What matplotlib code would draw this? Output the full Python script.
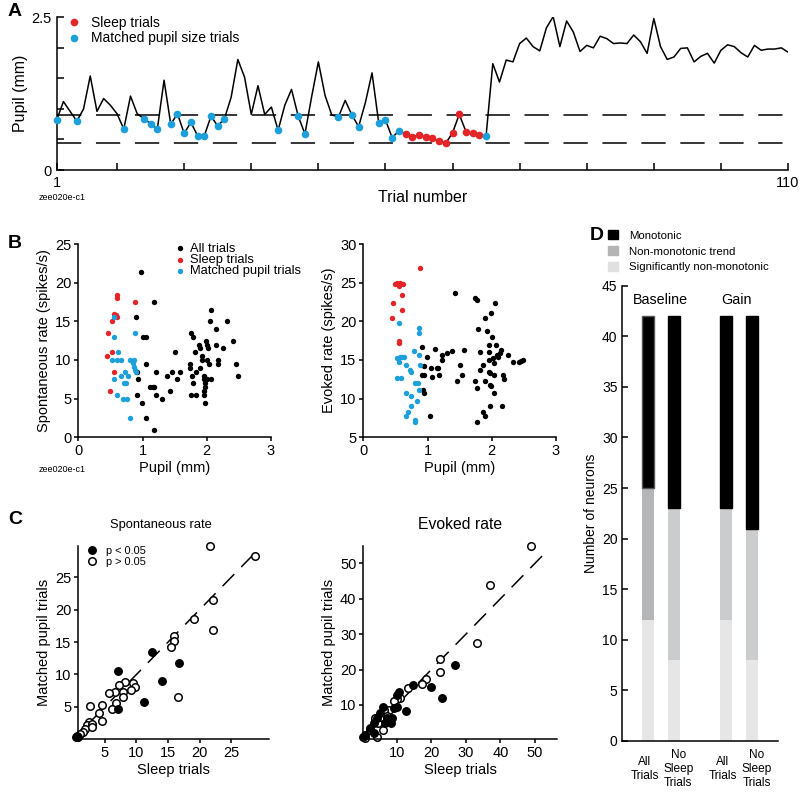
import numpy as np
import matplotlib
matplotlib.use('Agg')
import matplotlib.pyplot as plt
import matplotlib.transforms as mtransforms
from matplotlib.patches import Patch

plt.rcParams['font.family'] = ['Liberation Sans', 'DejaVu Sans']

RED = '#e42528'
BLUE = '#1ba0dc'

# ---------------- Panel A data ----------------
trials = np.arange(1, 111)
pupil = [0.82, 1.12, 0.96, 0.80, 1.00, 1.54, 0.96, 1.17, 1.06, 0.92,
         0.67, 1.21, 0.92, 0.84, 0.76, 0.67, 1.47, 0.75, 0.92, 0.60,
         0.78, 0.56, 0.56, 0.88, 0.72, 0.84, 1.19, 1.81, 1.52, 0.91,
         1.38, 0.91, 1.03, 0.65, 1.06, 1.32, 0.88, 0.59, 1.20, 1.77,
         1.22, 0.90, 0.87, 1.14, 0.90, 0.71, 1.10, 1.59, 0.77, 0.82,
         0.53, 0.64, 0.59, 0.545, 0.57, 0.545, 0.52, 0.47, 0.44, 0.61,
         0.91, 0.63, 0.60, 0.57, 0.56, 1.74, 1.44, 1.80, 1.77, 2.07,
         2.16, 2.02, 1.95, 2.33, 2.51, 2.02, 2.44, 2.26, 1.94, 2.04,
         2.00, 2.19, 2.15, 2.07, 2.08, 2.07, 2.21, 2.10, 1.91, 2.48,
         2.02, 1.81, 1.85, 1.99, 2.00, 1.77, 1.86, 1.91, 1.75, 1.96,
         2.05, 2.02, 1.92, 1.85, 2.04, 1.96, 1.98, 1.98, 2.00, 1.93]
sleep_trials = list(range(53, 65))
matched_trials = [1, 4, 11, 14, 15, 16, 18, 19, 20, 21, 22, 23, 24, 25, 26,
                  34, 37, 38, 43, 45, 46, 49, 50, 51, 52, 65]
pupil_thresholds = [0.90, 0.44]

# ---------------- Panel B data ----------------
spont_all_x = [0.97, 0.90, 1.01, 1.05, 1.18, 1.06, 0.92, 0.93, 0.91, 0.99, 1.05, 1.18,
               1.12, 1.16, 1.18, 1.21, 1.21, 1.31, 1.38, 1.46, 1.43, 1.50, 1.53, 1.58,
               1.75, 1.79, 1.74, 1.74, 1.77, 1.79, 1.75, 1.84, 1.81, 1.84, 1.88, 1.89,
               1.92, 1.89, 1.93, 1.95, 1.96, 1.97, 2.00, 1.95, 1.97, 1.96, 1.97, 1.99,
               2.00, 2.02, 2.00, 2.04, 2.06, 2.07, 2.05, 2.14, 2.14, 2.18, 2.18, 2.25,
               2.31, 2.41, 2.45, 2.48]
spont_all_y = [21.4, 15.5, 13.0, 13.0, 17.5, 9.5, 8.5, 7.5, 5.5, 4.5, 2.5, 1.0,
               6.5, 6.5, 6.5, 8.5, 5.5, 5.0, 7.9, 8.5, 6.0, 11.0, 7.5, 8.5,
               13.5, 13.0, 9.5, 8.9, 7.9, 7.0, 5.5, 5.5, 11.0, 8.5, 12.0, 11.5,
               10.5, 8.9, 10.0, 7.9, 7.5, 7.0, 7.5, 6.0, 6.5, 5.5, 4.5, 12.5,
               12.0, 11.5, 10.0, 9.5, 7.5, 16.5, 15.0, 14.0, 12.0, 10.0, 9.5, 11.5,
               15.0, 12.5, 9.5, 7.9]
spont_sleep_x = [0.60, 0.61, 0.56, 0.60, 0.52, 0.46, 0.53, 0.44, 0.56, 0.49, 0.89, 0.58]
spont_sleep_y = [18.4, 18.0, 16.0, 15.5, 15.0, 13.5, 11.0, 10.5, 8.5, 6.0, 17.5, 15.8]
spont_match_x = [0.56, 0.56, 0.88, 0.62, 0.52, 0.60, 0.66, 0.80, 0.86, 0.85, 0.87, 0.88,
                 0.90, 0.73, 0.78, 0.67, 0.56, 0.71, 0.74, 0.60, 0.69, 0.76, 0.80]
spont_match_y = [15.6, 13.0, 13.5, 11.0, 10.0, 10.0, 10.0, 10.0, 10.0, 9.6, 9.1, 8.7,
                 8.5, 8.5, 7.9, 7.9, 7.5, 7.0, 7.0, 5.5, 5.0, 5.0, 2.5]

evoked_all_x = [0.91, 0.94, 0.95, 0.91, 0.93, 0.95, 0.99, 1.04, 1.06, 1.07, 1.12, 1.14,
                1.17, 1.18, 1.22, 1.22, 1.30, 1.38, 1.43, 1.46, 1.51, 1.53, 1.57, 1.74,
                1.77, 1.79, 1.74, 1.77, 1.77, 1.82, 1.82, 1.87, 1.90, 1.90, 1.90, 1.86,
                1.93, 1.95, 1.96, 1.95, 1.96, 1.98, 1.97, 1.99, 1.97, 1.99, 2.00, 2.02,
                2.03, 2.04, 2.04, 2.05, 2.07, 2.08, 2.09, 2.13, 2.15, 2.16, 2.18, 2.19,
                2.26, 2.33, 2.42, 2.45, 2.48]
evoked_all_y = [16.7, 14.2, 13.0, 13.0, 11.1, 10.7, 15.4, 7.7, 14.0, 12.8, 16.4, 13.9,
                14.0, 13.0, 15.7, 15.0, 15.9, 16.1, 23.7, 12.3, 14.4, 13.0, 16.3, 23.0,
                22.7, 19.0, 12.3, 11.4, 7.0, 13.7, 16.0, 14.4, 20.4, 12.3, 7.7, 8.3,
                18.7, 17.0, 16.0, 15.0, 13.5, 13.3, 11.8, 11.6, 9.0, 21.1, 18.0, 15.3,
                14.6, 13.0, 10.7, 22.4, 17.0, 15.6, 15.4, 15.9, 16.3, 9.0, 13.0, 12.5,
                15.7, 14.7, 14.7, 14.9, 15.0]
evoked_sleep_x = [0.49, 0.53, 0.57, 0.62, 0.60, 0.47, 0.60, 0.44, 0.55, 0.56, 0.89, 0.55]
evoked_sleep_y = [24.8, 25.0, 24.9, 24.8, 23.4, 22.4, 21.4, 20.4, 17.4, 17.2, 26.9, 24.6]
evoked_match_x = [0.56, 0.86, 0.86, 0.52, 0.57, 0.60, 0.63, 0.56, 0.79, 0.87, 0.66, 0.73,
                  0.75, 0.88, 0.52, 0.59, 0.81, 0.85, 0.87, 0.66, 0.75, 0.83, 0.69, 0.75,
                  0.66, 0.81, 0.81]
evoked_match_y = [19.8, 19.2, 18.5, 15.3, 15.4, 15.4, 15.4, 14.7, 16.1, 15.7, 14.4, 13.7,
                  13.4, 14.4, 12.7, 12.7, 12.0, 12.0, 11.1, 10.7, 10.4, 9.7, 8.3, 9.0,
                  7.7, 7.3, 7.0]

# ---------------- Panel C data ----------------
spont_sig_sleep = [0.45, 0.6, 0.8, 7.1, 7.1, 12.4, 14.1, 16.7, 11.2]
spont_sig_match = [0.4, 0.5, 0.4, 10.6, 4.6, 13.5, 9.0, 11.7, 5.7]
spont_ns_sleep = [21.6, 28.8, 22.1, 19.1, 22.1, 15.9, 15.9, 15.5, 16.6, 9.5, 9.7, 9.2,
                  8.2, 7.3, 7.8, 7.8, 6.6, 5.7, 6.8, 6.2, 4.6, 4.1, 4.5, 2.6, 2.5,
                  2.2, 1.8, 1.5, 1.1, 0.6, 2.9, 3.0]
spont_ns_match = [29.8, 28.2, 21.5, 18.5, 16.9, 15.9, 15.2, 14.3, 6.5, 8.7, 8.0, 7.6,
                  8.9, 8.4, 7.3, 6.5, 7.3, 7.1, 5.6, 4.6, 5.3, 4.0, 2.8, 5.1, 2.7,
                  2.2, 1.6, 1.1, 0.8, 0.4, 2.4, 1.9]

evoked_sig_sleep = [26.8, 23.0, 19.8, 14.8, 12.6, 10.5, 10.0, 10.0, 8.6, 6.0, 5.2, 4.4,
                    3.5, 2.3, 0.9, 0.2, 3.3, 7.3, 8.3, 9.2, 6.6]
evoked_sig_match = [21.3, 11.9, 15.1, 15.6, 8.4, 13.7, 12.8, 9.5, 6.2, 9.5, 7.6, 6.2,
                    4.8, 3.4, 1.5, 1.0, 2.2, 6.2, 4.8, 9.0, 4.8]
evoked_ns_sleep = [48.8, 36.9, 33.3, 22.5, 22.5, 18.4, 17.2, 13.1, 10.8, 10.0, 9.2, 7.6,
                   6.3, 3.8, 4.2, 2.3, 0.9, 4.7, 5.4, 7.1, 6.0]
evoked_ns_match = [54.8, 43.8, 27.6, 23.1, 19.4, 17.3, 15.8, 14.7, 12.0, 11.6, 11.2, 8.7,
                   8.6, 6.2, 1.0, 2.9, 0.6, 4.8, 6.7, 6.9, 2.9]

# ---------------- Panel D data ----------------
bar_labels = ['All\nTrials', 'No\nSleep\nTrials', 'All\nTrials', 'No\nSleep\nTrials']
bar_pos = [0, 1, 3, 4]
sig_nonmono = [12, 8, 12, 8]
nonmono_trend = [13, 15, 11, 13]
monotonic = [17, 19, 19, 21]
group_labels = ['Baseline', 'Gain']
group_pos = [0.5, 3.4]

# ================= Figure =================
fig = plt.figure(figsize=(8, 7.95), dpi=100)


def px_axes(x0, y0, x1, y1):
    return fig.add_axes([x0 / 800, 1 - y1 / 795, (x1 - x0) / 800, (y1 - y0) / 795])


def fpx(x, y):
    return x / 800, 1 - y / 795


def clean(ax):
    ax.spines['top'].set_visible(False)
    ax.spines['right'].set_visible(False)
    for s in ('left', 'bottom'):
        ax.spines[s].set_linewidth(1.1)


# ---------- A ----------
axA = px_axes(56.7, 17.3, 788, 170)
clean(axA)
axA.plot(trials, pupil, color='k', lw=1.1, zorder=2)
for thr in pupil_thresholds:
    axA.axhline(thr, color='k', lw=1.1, dashes=(15.9, 9.6), zorder=1)
p = np.array(pupil)
si = np.array(sleep_trials)
mi = np.array(matched_trials)
axA.plot(si, p[si - 1], 'o', color=RED, ms=5.5, mec='none', clip_on=False, zorder=3,
         label='Sleep trials')
axA.plot(mi, p[mi - 1], 'o', color=BLUE, ms=5.5, mec='none', clip_on=False, zorder=3,
         label='Matched pupil size trials')
axA.set_xlim(1, 110)
axA.set_ylim(0, 2.5)
xt = [1] + list(range(10, 111, 10))
axA.set_xticks(xt)
axA.set_xticklabels(['1'] + [''] * 10 + ['110'])
axA.set_yticks([0, 0.5, 1.0, 1.5, 2.0, 2.5])
axA.set_yticklabels(['0', '', '', '', '', '2.5'])
axA.tick_params(direction='in', length=5, width=1.1, labelsize=10.5, pad=4)
axA.set_ylabel('Pupil (mm)', fontsize=11.5, labelpad=2)
axA.set_xlabel('Trial number', fontsize=11.5, labelpad=0)
axA.legend(loc='upper left', bbox_to_anchor=fpx(67, 16), bbox_transform=fig.transFigure,
           frameon=False, fontsize=10, handlelength=1.0, handletextpad=0.75,
           borderpad=0, borderaxespad=0, labelspacing=0.1)
fig.text(*fpx(39, 197), 'zee020e-c1', fontsize=6.5, va='center', ha='left')

# ---------- B ----------
axB1 = px_axes(78.3, 244, 271, 437.3)
axB2 = px_axes(363.3, 244, 556, 437.3)
for ax in (axB1, axB2):
    clean(ax)
    ax.set_xlim(0, 3)
    ax.set_xticks([0, 1, 2, 3])
    ax.tick_params(direction='out', length=3, width=1.1, labelsize=10.5, pad=2)
    ax.set_xlabel('Pupil (mm)', fontsize=10.5, labelpad=2)
axB1.scatter(spont_all_x, spont_all_y, s=15, c='k', linewidths=0, clip_on=False, label='All trials')
axB1.scatter(spont_sleep_x, spont_sleep_y, s=15, c=RED, linewidths=0, clip_on=False, label='Sleep trials')
axB1.scatter(spont_match_x, spont_match_y, s=15, c=BLUE, linewidths=0, clip_on=False, label='Matched pupil trials')
axB1.set_ylim(0, 25)
axB1.set_yticks([0, 5, 10, 15, 20, 25])
axB1.set_ylabel('Spontaneous rate (spikes/s)', fontsize=10.5, labelpad=3)
axB1.legend(loc='upper left', bbox_to_anchor=fpx(176.8, 242.5), bbox_transform=fig.transFigure,
            frameon=False, fontsize=9.3, handlelength=0.5, handletextpad=0.55,
            borderpad=0, borderaxespad=0, labelspacing=-0.05, scatterpoints=1)
axB2.scatter(evoked_all_x, evoked_all_y, s=15, c='k', linewidths=0, clip_on=False)
axB2.scatter(evoked_sleep_x, evoked_sleep_y, s=15, c=RED, linewidths=0, clip_on=False)
axB2.scatter(evoked_match_x, evoked_match_y, s=15, c=BLUE, linewidths=0, clip_on=False)
axB2.set_ylim(5, 30)
axB2.set_yticks([5, 10, 15, 20, 25, 30])
axB2.set_ylabel('Evoked rate (spikes/s)', fontsize=10.5, labelpad=3)
fig.text(*fpx(39, 470), 'zee020e-c1', fontsize=6.5, va='center', ha='left')

# ---------- C ----------
axC1 = px_axes(78.3, 546, 269.3, 739.3)
axC2 = px_axes(363.3, 546, 556.7, 739.3)
for ax in (axC1, axC2):
    clean(ax)
    ax.tick_params(direction='out', length=3, width=1.1, labelsize=10.5, pad=2)
    ax.set_xlabel('Sleep trials', fontsize=10.5, labelpad=2)
    ax.set_ylabel('Matched pupil trials', fontsize=10.5, labelpad=3)

axC1.set_xlim(0.8, 31)
axC1.set_ylim(0, 29.8)
axC1.plot([0, 28.5], [0, 28.5], color='k', lw=1.1, dashes=(11, 6.5), zorder=1)
axC1.plot(spont_sig_sleep, spont_sig_match, 'o', ms=5.4, color='k', mec='k', clip_on=False,
          zorder=3, label='p < 0.05')
axC1.plot(spont_ns_sleep, spont_ns_match, 'o', ms=5.4, mfc='white', mec='k', mew=1.1,
          clip_on=False, zorder=2, label='p > 0.05')
axC1.set_xticks([5, 10, 15, 20, 25])
axC1.set_yticks([5, 10, 15, 20, 25])
axC1.text(0.433, 1.11, 'Spontaneous rate', transform=axC1.transAxes, ha='center',
          va='center', fontsize=9.3)
axC1.legend(loc='upper left', bbox_to_anchor=fpx(86.2, 545.5), bbox_transform=fig.transFigure,
            frameon=False, fontsize=7.9, handlelength=1.0, handletextpad=0.82,
            borderpad=0, borderaxespad=0, labelspacing=0.13, numpoints=1)

axC2.set_xlim(0.3, 56.3)
axC2.set_ylim(0.3, 54.9)
axC2.plot([0, 53], [0, 53], color='k', lw=1.1, dashes=(11, 6.5), zorder=1)
axC2.plot(evoked_ns_sleep, evoked_ns_match, 'o', ms=5.4, mfc='white', mec='k', mew=1.1,
          clip_on=False, zorder=2)
axC2.plot(evoked_sig_sleep, evoked_sig_match, 'o', ms=5.4, color='k', mec='k', clip_on=False,
          zorder=3)
axC2.set_xticks([10, 20, 30, 40, 50])
axC2.set_yticks([10, 20, 30, 40, 50])
axC2.text(0.5, 1.11, 'Evoked rate', transform=axC2.transAxes, ha='center',
          va='center', fontsize=11.3)

# ---------- D ----------
axD = px_axes(621.7, 285.7, 778.3, 741)
clean(axD)
LIGHT = '#e6e6e6'
MID = '#cbcccd'
MID1 = '#b5b6b8'
mid_colors = [MID1, MID, MID, MID]
w = 0.48
axD.bar(bar_pos, sig_nonmono, width=w, color=LIGHT, linewidth=0)
axD.bar(bar_pos, nonmono_trend, bottom=sig_nonmono, width=w, color=mid_colors, linewidth=0)
bot2 = np.array(sig_nonmono) + np.array(nonmono_trend)
axD.bar(bar_pos, monotonic, bottom=bot2, width=w, color='k',
        edgecolor=['#555555', 'k', 'k', 'k'], linewidth=1.0)
axD.set_xlim(-1, 5)
axD.set_ylim(0, 45)
axD.set_yticks(range(0, 46, 5))
axD.set_xticks(bar_pos)
axD.set_xticklabels([''] * len(bar_pos))
axD.tick_params(axis='x', length=0)
axD.tick_params(axis='y', direction='in', length=4, width=1.1, labelsize=10, pad=3)
axD.set_ylabel('Number of neurons', fontsize=10, labelpad=3)
# category labels under the bars (nudged like the reference)
lab_tr = mtransforms.blended_transform_factory(axD.transData, axD.transAxes)
for bx, bl in zip(bar_pos, bar_labels):
    nudge = -0.13 if bl.startswith('All') else 0.17
    axD.text(bx + nudge, -0.062, bl, transform=lab_tr, ha='center', va='center',
             multialignment='center', fontsize=8.6, linespacing=1.22)
for gx, gl in zip(group_pos, group_labels):
    axD.text(gx, 43.6, gl, ha='center', va='center', fontsize=10.3)
handles = [Patch(color='k', label='Monotonic'),
           Patch(color='#b4b4b4', label='Non-monotonic trend'),
           Patch(color='#e0e0e0', label='Significantly non-monotonic')]
axD.legend(handles=handles, loc='upper left', bbox_to_anchor=fpx(608, 230),
           bbox_transform=fig.transFigure, frameon=False, fontsize=8.2,
           handlelength=0.9, handleheight=0.9, handletextpad=0.95,
           borderpad=0, borderaxespad=0, labelspacing=0.46)

# ---------- panel letters ----------
for letter, (x, y) in zip('ABCD', [(8, 12), (8, 243), (8, 519), (590, 236)]):
    fig.text(*fpx(x, y), letter, fontsize=14, fontweight='bold', ha='left', va='center')

fig.savefig('out.png', dpi=100)
